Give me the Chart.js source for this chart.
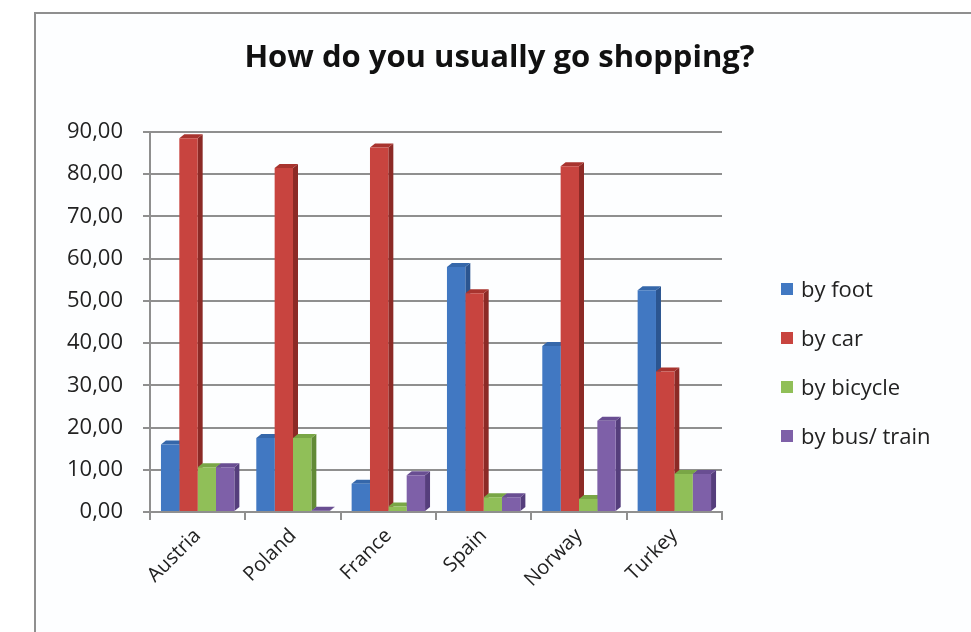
<!DOCTYPE html>
<html>
<head>
<meta charset="utf-8">
<script src="https://cdn.jsdelivr.net/npm/chart.js@4"></script>
<style>
  html, body { margin: 0; padding: 0; background: #ffffff; }
  #wrap { position: relative; width: 971px; height: 632px; overflow: hidden; }
  #frame {
    position: absolute; left: 34px; top: 12px; width: 960px; height: 640px;
    border-left: 2px solid #8f8f8f; border-top: 2px solid #8f8f8f; background: #fdfeff;
  }
  #chart { position: absolute; left: 0; top: 0; }
  #legend { position: absolute; left: 781px; top: 273px; font-family: "Open Sans", sans-serif; font-size: 22px; color: #222; }
  #legend div { height: 49px; display: flex; align-items: flex-start; line-height: 30px; }
  #legend span.box { display: inline-block; width: 12px; height: 12px; margin: 10px 8px 0 0; }
</style>
</head>
<body>
<div id="wrap">
  <div id="frame"></div>
  <canvas id="chart" width="971" height="632"></canvas>
  <div id="legend"></div>
</div>
<script>
const countries = ["Austria", "Poland", "France", "Spain", "Norway", "Turkey"];
const modes = ["by foot", "by car", "by bicycle", "by bus/ train"];

const byFoot = [16, 17.5, 6.7, 58, 39.3, 52.5];
const byCar = [88.5, 81.5, 86.3, 51.8, 81.9, 33.3];
const byBicycle = [10.6, 17.5, 1.3, 3.5, 3.1, 9];
const byBus = [10.6, 0.3, 8.7, 3.5, 21.6, 9];

const yTicks = [0, 10, 20, 30, 40, 50, 60, 70, 80, 90];

const frontColors = ["#4178c2", "#c8443f", "#90bf58", "#7e60a8"];
const sideColors = ["#2b5590", "#8c2a26", "#628a36", "#553e7c"];
const topColors = ["#3567aa", "#a8342f", "#79a646", "#694e92"];

const seriesValues = [byFoot, byCar, byBicycle, byBus];

// darker side and top faces so the columns look like blocks
const depthX = 5, depthY = 4;
const blockFaces = {
    id: "blockFaces",
    beforeDatasetsDraw(chart) {
        const ctx = chart.ctx;
        ctx.save();
        chart.data.datasets.forEach((ds, i) => {
            chart.getDatasetMeta(i).data.forEach(bar => {
                const left = bar.x - bar.width / 2;
                const right = bar.x + bar.width / 2;
                const top = bar.y, base = bar.base;
                // side
                ctx.fillStyle = sideColors[i];
                ctx.beginPath();
                ctx.moveTo(right, base);
                ctx.lineTo(right + depthX, base - depthY);
                ctx.lineTo(right + depthX, top - depthY);
                ctx.lineTo(right, top);
                ctx.closePath();
                ctx.fill();
                // top
                ctx.fillStyle = topColors[i];
                ctx.beginPath();
                ctx.moveTo(left, top);
                ctx.lineTo(left + depthX, top - depthY);
                ctx.lineTo(right + depthX, top - depthY);
                ctx.lineTo(right, top);
                ctx.closePath();
                ctx.fill();
            });
        });
        ctx.restore();
    }
};

const datasets = modes.map((m, i) => ({
    label: m,
    data: seriesValues[i],
    backgroundColor: frontColors[i],
    borderWidth: 0,
    categoryPercentage: 0.77,
    barPercentage: 1.0
}));

const ctx = document.getElementById("chart").getContext("2d");
const chart = new Chart(ctx, {
    type: "bar",
    data: { labels: countries, datasets: datasets },
    options: {
        responsive: false,
        animation: false,
        layout: { padding: { left: 28, right: 0, top: 0, bottom: 0 } },
        plugins: {
            legend: { display: false },
            tooltip: { enabled: false },
            title: {
                display: true,
                text: "How do you usually go shopping?",
                color: "#111",
                font: { family: "Open Sans", size: 31, weight: "bold", lineHeight: 1.2 },
                padding: { top: 40, bottom: 54.8 }
            }
        },
        scales: {
            x: {
                grid: { display: true, drawOnChartArea: false, color: "#8f8f8f", lineWidth: 2, tickLength: 8 },
                border: { color: "#8f8f8f", width: 2 },
                ticks: {
                    color: "#222",
                    font: { family: "Open Sans", size: 20 },
                    minRotation: 45, maxRotation: 45, padding: 4
                },
                afterFit(scale) { scale.height = 120; }
            },
            y: {
                min: 0, max: 90,
                afterBuildTicks(scale) { scale.ticks = yTicks.map(v => ({ value: v })); },
                grid: { color: "#8f8f8f", lineWidth: 2, tickLength: 7 },
                border: { color: "#8f8f8f", width: 2 },
                ticks: {
                    color: "#222",
                    font: { family: "Open Sans", size: 22 },
                    padding: 20,
                    callback: v => v.toFixed(2).replace(".", ",")
                },
                afterFit(scale) { scale.width = 122; }
            },
            // empty room on the right for the legend
            side: {
                type: "linear", position: "right",
                grid: { display: false }, border: { display: false },
                ticks: { display: false },
                afterFit(scale) { scale.width = 249; }
            }
        }
    },
    plugins: [blockFaces]
});

// legend
const legend = document.getElementById("legend");
modes.forEach((m, i) => {
    const row = document.createElement("div");
    row.innerHTML = `<span class="box" style="background:${frontColors[i]}"></span>${m}`;
    legend.appendChild(row);
});
</script>
</body>
</html>
